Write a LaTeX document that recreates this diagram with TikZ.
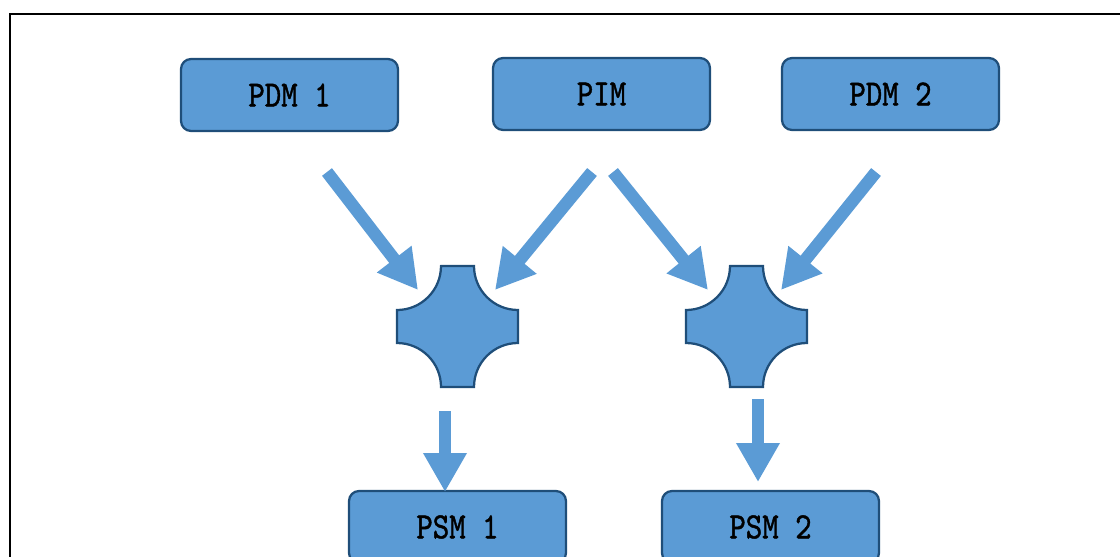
\documentclass[tikz,border=0pt]{standalone}
\usepackage{fontspec}
\usepackage{tikz}
\usetikzlibrary{arrows.meta}
\newfontfamily\boxfont{lmmono10-regular.otf}[FakeBold=1.3]
\definecolor{boxblue}{HTML}{5B9BD5}
\definecolor{edgeblue}{HTML}{1F4E79}
\newcommand{\boxtext}[1]{\scalebox{0.85}[1]{\fontsize{21}{25}\selectfont\boxfont #1}}
\tikzset{
	modelbox/.style={draw=edgeblue, fill=boxblue, line width=0.045cm, rounded corners=0.2cm,
		minimum width=4.34cm, minimum height=1.44cm, inner sep=0pt},
	bigarrow/.style={draw=boxblue, line width=0.25cm, -{Triangle[width=0.82cm,length=0.78cm]}},
	crossshape/.style={draw=edgeblue, fill=boxblue, line width=0.045cm}
}

\begin{document}
\begin{tikzpicture}[x=0.02cm, y=0.02cm]
	\useasboundingbox (0,0) rectangle (1120,556);
	\clip (0,0) rectangle (1120,556);
	\draw[line width=0.04cm] (10,542) rectangle (1140,-20);

	% models
	\node[modelbox] (pdm1) at (289.5,461) {\boxtext{PDM 1}};
	\node[modelbox] (pim) at (601.5,462) {\boxtext{PIM}};
	\node[modelbox] (pdm2) at (890.5,462) {\boxtext{PDM 2}};
	\node[modelbox] (psm1) at (457.5,29) {\boxtext{PSM 1}};
	\node[modelbox] (psm2) at (770.5,29) {\boxtext{PSM 2}};

	% merge symbols
	\coordinate (merge1) at (457.5,229.5);
	\coordinate (merge2) at (746.5,229.5);
	\foreach \m in {merge1,merge2}
		\draw[crossshape, shift={(\m)}] (-16.5,60.5) -- (16.5,60.5)
			arc[start angle=180, end angle=270, radius=0.88cm] -- (60.5,-16.5)
			arc[start angle=90, end angle=180, radius=0.88cm] -- (-16.5,-60.5)
			arc[start angle=0, end angle=90, radius=0.88cm] -- (-60.5,16.5)
			arc[start angle=270, end angle=360, radius=0.88cm] -- cycle;

	% arrow ends
	\coordinate (a1s) at (327,384);
	\coordinate (a1e) at (418,266);
	\coordinate (a2s) at (592,384);
	\coordinate (a2e) at (495,266);
	\coordinate (a3s) at (613,384);
	\coordinate (a3e) at (708,266);
	\coordinate (a4s) at (876,384);
	\coordinate (a4e) at (781,266);
	\coordinate (a5s) at (445,145);
	\coordinate (a5e) at (445,64);
	\coordinate (a6s) at (758,157);
	\coordinate (a6e) at (758,74);

	\draw[bigarrow] (a1s) -- (a1e);
	\draw[bigarrow] (a2s) -- (a2e);
	\draw[bigarrow] (a3s) -- (a3e);
	\draw[bigarrow] (a4s) -- (a4e);
	\draw[bigarrow] (a5s) -- (a5e);
	\draw[bigarrow] (a6s) -- (a6e);

\end{tikzpicture}
\end{document}
